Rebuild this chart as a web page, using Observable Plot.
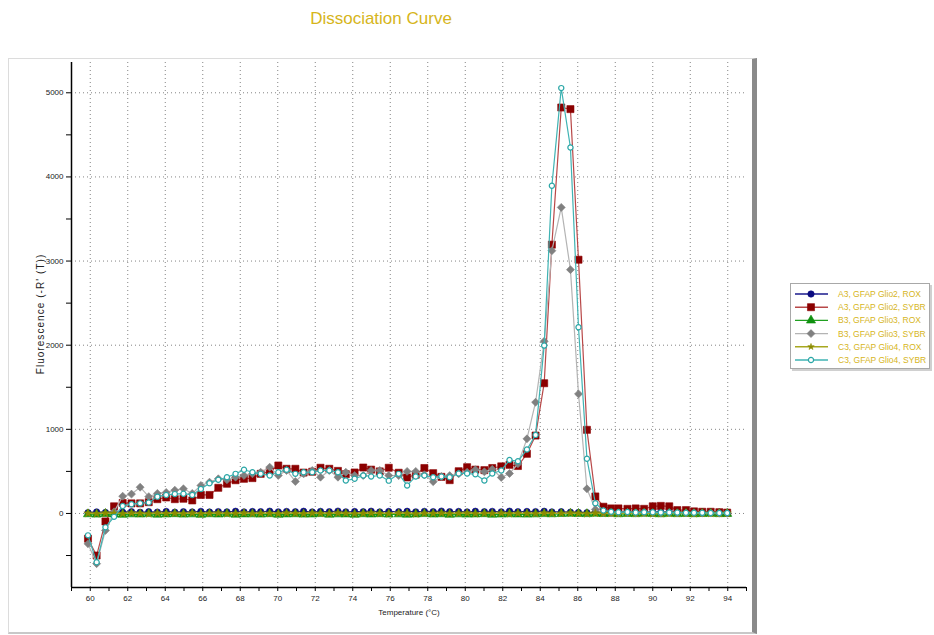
<!DOCTYPE html>
<html>
<head>
<meta charset="utf-8">
<script src="https://cdn.jsdelivr.net/npm/d3@7"></script>
<script src="https://cdn.jsdelivr.net/npm/@observablehq/plot@0.6"></script>
<style>
  body { margin: 0; background: #fff; font-family: "Liberation Sans", Arial, sans-serif; }
  #page { position: relative; width: 934px; height: 635px; overflow: hidden; background: #fff; }
  #title { position: absolute; left: 0; top: 9px; width: 762px; text-align: center; color: #d6b51a; font-size: 17px; }
  #panel { position: absolute; left: 8px; top: 58px; width: 749px; height: 576px; box-sizing: border-box;
           border-left: 1px solid #dcdcdc; border-top: 1px solid #dcdcdc; border-bottom: 2px solid #c8c8c8; border-right: 5px solid #8a8a8a; }
  #chart { position: absolute; left: 0; top: 0; }
  #legend { position: absolute; left: 789px; top: 282px; }
</style>
</head>
<body>
<div id="page">
  <div id="panel"></div>
  <div id="title">Dissociation Curve</div>
  <div id="chart"></div>
  <div id="legend"></div>
</div>
<script>
// Melt temperatures (°C) of the dissociation run
const temperature = [
  59.88, 60.34, 60.81, 61.27, 61.73, 62.20, 62.66, 63.12, 63.58, 64.05,
  64.51, 64.97, 65.44, 65.90, 66.36, 66.83, 67.29, 67.75, 68.20, 68.65,
  69.09, 69.57, 70.03, 70.47, 70.94, 71.38, 71.84, 72.28, 72.75, 73.21,
  73.63, 74.10, 74.56, 74.98, 75.44, 75.92, 76.45, 76.90, 77.36, 77.82,
  78.29, 78.73, 79.17, 79.65, 80.10, 80.54, 81.02, 81.44, 81.92, 82.36,
  82.81, 83.29, 83.75, 84.21, 84.62, 85.12, 85.61, 86.04, 86.49, 86.94,
  87.37, 87.78, 88.17, 88.65, 89.09, 89.54, 90.00, 90.43, 90.88, 91.31,
  91.77, 92.20, 92.64, 93.09, 93.55, 93.97
];

// -R'(T) per well and dye
const a3Rox = [
  10, 18, 12, 20, 15, 22, 14, 20, 16, 24, 15, 21, 18, 25, 17, 22, 19, 26, 18, 23,
  20, 27, 19, 24, 21, 26, 18, 25, 20, 28, 19, 23, 21, 27, 18, 24, 20, 26, 19, 25,
  22, 28, 20, 24, 18, 26, 21, 25, 19, 27, 20, 24, 22, 26, 18, 20, 15, 12, 10, 14,
  16, 13, 18, 15, 17, 14, 19, 16, 18, 15, 17, 14, 16, 13, 15, 12
];
const a3Sybr = [
  -300, -500, -95, 85, 125, 120, 120, 134, 170, 190,
  170, 175, 155, 220, 220, 305, 353, 395, 412, 420,
  471, 500, 570, 531, 531, 486, 496, 543, 531, 506,
  467, 487, 546, 521, 500, 543, 484, 428, 461, 540,
  479, 435, 396, 502, 550, 521, 515, 540, 560, 578,
  564, 709, 926, 1548, 3195, 4825, 4806, 3016, 994, 202,
  80, 60, 60, 55, 60, 55, 85, 90, 85, 40,
  40, 25, 20, 20, 15, 10
];
const b3Rox = [
  -8, -12, -5, -10, -14, -9, -11, -6, -13, -10, -7, -12, -9, -15, -8, -11, -6, -13, -10, -9,
  -12, -7, -14, -10, -8, -12, -11, -6, -13, -9, -10, -14, -8, -11, -7, -12, -9, -13, -10, -6,
  -11, -8, -14, -9, -12, -10, -7, -13, -11, -8, -10, -12, -9, -6, -8, -5, -3, -4, -6, -2,
  -5, -3, -7, -4, -6, -2, -5, -8, -3, -6, -4, -7, -5, -3, -6, -4
];
const b3Sybr = [
  -360, -597, -202, 20, 205, 230, 312, 200, 238, 250,
  277, 293, 238, 333, 372, 412, 400, 431, 451, 471,
  490, 550, 451, 511, 380, 471, 511, 431, 511, 431,
  490, 451, 451, 511, 511, 451, 450, 500, 500, 460,
  378, 440, 450, 471, 490, 520, 495, 525, 428, 475,
  590, 887, 1322, 2046, 3123, 3638, 2898, 1421, 293, 48,
  10, 5, 8, 12, 6, 10, 8, 5, 10, 7,
  5, 8, 6, 5, 4, 3
];
const c3Rox = [
  2, -3, 4, 0, -2, 5, 1, -4, 3, 0, 2, -1, 4, -3, 1, 3, -2, 0, 5, -1,
  2, 0, -3, 4, 1, -2, 3, 0, -1, 4, 2, -3, 1, 5, 0, -2, 3, 1, -4, 2,
  0, 3, -1, 2, 4, -2, 1, 0, 3, -3, 2, 1, -1, 3, 0, 2, 4, 1, -2, 3,
  0, 2, -1, 4, 1, 3, -2, 0, 2, 1, 3, -1, 2, 0, 1, 2
];
const c3Sybr = [
  -260, -580, -165, -40, 90, 110, 120, 130, 200, 220,
  230, 235, 220, 290, 360, 400, 431, 471, 519, 490,
  471, 451, 490, 519, 471, 490, 490, 511, 511, 490,
  392, 412, 451, 439, 451, 390, 471, 333, 440, 450,
  431, 438, 430, 475, 475, 465, 392, 475, 511, 635,
  621, 760, 934, 1995, 3895, 5056, 4350, 2213, 650, 122,
  36, 20, 15, 18, 12, 15, 14, 10, 12, 10,
  8, 9, 7, 6, 5, 5
];

const seriesNames = [
  "A3, GFAP Glio2, ROX", "A3, GFAP Glio2, SYBR",
  "B3, GFAP Glio3, ROX", "B3, GFAP Glio3, SYBR",
  "C3, GFAP Glio4, ROX", "C3, GFAP Glio4, SYBR"
];
const seriesValues = [a3Rox, a3Sybr, b3Rox, b3Sybr, c3Rox, c3Sybr];

const xTicks = d3.range(59, 96);          // every degree gets a tick
const xLabelled = d3.range(60, 95, 2);    // even degrees are labelled and gridded
const yTicks = d3.range(-500, 5001, 500);
const yGrid = d3.range(0, 5001, 1000);

const yTitle = "Fluorescence (-R' (T))";
const xTitle = "Temperature (°C)";

// per-series look: line colour, marker colour, marker symbol, marker size, hollow?
const styles = [
  {line: "#1a1a8c", mark: "#0a0a80", symbol: "circle", r: 3.2, hollow: false},
  {line: "#b84848", mark: "#8b0000", symbol: "square", r: 4.0, hollow: false},
  {line: "#20a020", mark: "#109010", symbol: "triangle", r: 3.4, hollow: false},
  {line: "#b4b4b4", mark: "#808080", symbol: "diamond2", r: 3.6, hollow: false},
  {line: "#a8a820", mark: "#8c8c00", symbol: "star", r: 2.6, hollow: false},
  {line: "#3fb3b3", mark: "#2aa6a6", symbol: "circle", r: 2.6, hollow: true}
];

const rows = seriesNames.map((name, s) =>
  temperature.map((t, i) => ({series: name, t, v: seriesValues[s][i]}))
);

const seriesMarks = rows.flatMap((data, s) => {
  const st = styles[s];
  return [
    Plot.line(data, {x: "t", y: "v", stroke: st.line, strokeWidth: 1.2}),
    Plot.dot(data, {
      x: "t", y: "v", symbol: () => st.symbol, r: st.r,
      fill: st.hollow ? "#ffffff" : st.mark,
      stroke: st.mark, strokeWidth: st.hollow ? 1.2 : 0.6
    })
  ];
});

const chart = Plot.plot({
  width: 760,
  height: 635,
  marginLeft: 71,
  marginRight: 14,
  marginTop: 62,
  marginBottom: 48,
  x: {domain: [59, 95]},
  y: {domain: [-880, 5360]},
  symbol: {type: "identity"},
  style: {background: "transparent", fontFamily: "'Liberation Sans', Arial, sans-serif", fontSize: "8px", color: "#222", overflow: "visible"},
  marks: [
    Plot.gridX(xLabelled, {stroke: "#777", strokeOpacity: 0.9, strokeDasharray: "1,3"}),
    Plot.gridY(yGrid, {stroke: "#777", strokeOpacity: 0.9, strokeDasharray: "1,3"}),
    Plot.axisX({ticks: xTicks, tickFormat: d => (d % 2 === 0 && d >= 60 && d <= 94) ? String(d) : "", tickSize: 4, tickPadding: 4, label: null, stroke: "#000"}),
    Plot.axisY({ticks: yTicks, tickFormat: d => (d % 1000 === 0) ? String(d) : "", tickSize: 5, tickPadding: 3, label: null, stroke: "#000"}),
    Plot.ruleX([59], {stroke: "#000", strokeWidth: 1.5}),
    Plot.ruleY([-880], {stroke: "#000", strokeWidth: 1.5}),
    ...seriesMarks,
    Plot.text([yTitle], {text: d => d, frameAnchor: "left", textAnchor: "middle", rotate: -90, dx: -31, dy: -11, fontSize: 10, fill: "#222"}),
    Plot.text([xTitle], {text: d => d, frameAnchor: "bottom", textAnchor: "middle", dy: 27, fontSize: 8, fill: "#222"})
  ]
});
// the vertical axis title is letter-spaced
d3.select(chart).selectAll("text").filter(function() { return this.textContent === yTitle; })
  .style("letter-spacing", "1.05px");
document.getElementById("chart").appendChild(chart);

// Legend box with line + marker samples
const lg = d3.select("#legend").append("svg").attr("width", 145).attr("height", 92);
lg.append("rect").attr("x", 3).attr("y", 3).attr("width", 140).attr("height", 86).attr("fill", "#d0d0d0");
lg.append("rect").attr("x", 1.5).attr("y", 1.5).attr("width", 139).attr("height", 85)
  .attr("fill", "#fff").attr("stroke", "#a8a8a8").attr("stroke-width", 1);
const symbolTypes = {circle: d3.symbolCircle, square: d3.symbolSquare, triangle: d3.symbolTriangle, diamond2: d3.symbolDiamond2, star: d3.symbolStar};
seriesNames.forEach((name, s) => {
  const st = styles[s];
  const y = 12 + s * 13.2;
  lg.append("line").attr("x1", 6).attr("x2", 39).attr("y1", y).attr("y2", y).attr("stroke", st.line).attr("stroke-width", 1.4);
  lg.append("path")
    .attr("d", d3.symbol(symbolTypes[st.symbol], Math.PI * st.r * st.r * (st.symbol === "star" ? 0.6 : 1))())
    .attr("transform", `translate(22,${y})`)
    .attr("fill", st.hollow ? "#fff" : st.mark)
    .attr("stroke", st.mark).attr("stroke-width", st.hollow ? 1.2 : 0.6);
  lg.append("text").attr("x", 49).attr("y", y).attr("dy", "0.35em")
    .attr("font-size", 8.5).attr("fill", "#d6b51a")
    .attr("font-family", "'Liberation Sans', Arial, sans-serif")
    .text(name);
});
</script>
</body>
</html>
